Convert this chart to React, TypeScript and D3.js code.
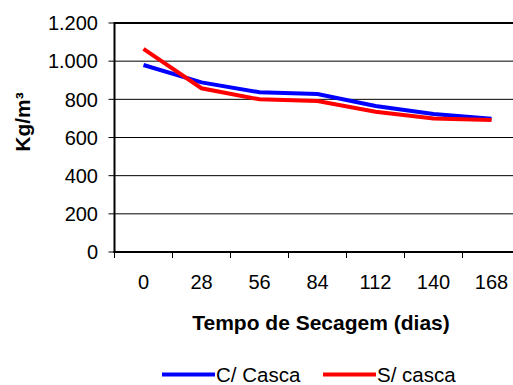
import React from "react";
import * as d3 from "d3";

const categories = ["0", "28", "56", "84", "112", "140", "168"];
const cCasca = [980, 889, 837, 828, 765, 723, 698];
const sCasca = [1064, 858, 800, 791, 735, 700, 692];
const yTicks = [0, 200, 400, 600, 800, 1000, 1200];
const yTickLabels = ["0", "200", "400", "600", "800", "1.000", "1.200"];
const seriesNames = ["C/ Casca", "S/ casca"];
const seriesColors = ["#0000ff", "#ff0000"];

const W = 513;
const H = 385;
const left = 114.5;
const right = 520.5;
const top = 23;
const bottom = 252;
const FONT = "'Liberation Sans', Arial, sans-serif";

export default function App() {
  const x = d3.scaleBand<string>().domain(categories).range([left, right]).padding(0);
  const y = d3.scaleLinear().domain([0, 1200]).range([bottom, top]);
  const line = d3
    .line<number>()
    .x((_, i) => (x(categories[i]) as number) + x.bandwidth() / 2)
    .y((d) => y(d));
  const series = [cCasca, sCasca];

  return (
    <svg
      width={W}
      height={H}
      style={{ position: "absolute", left: 0, top: 0, background: "#fff" }}
    >
      {yTicks.map((t) => (
        <line key={"g" + t} x1={left} x2={W} y1={y(t)} y2={y(t)} stroke="#000" strokeWidth={1} />
      ))}
      <line x1={left} x2={W} y1={top} y2={top} stroke="#000" strokeWidth={2} />
      {yTicks.map((t, i) => (
        <g key={"yt" + t}>
          <line x1={left - 6} x2={left} y1={y(t)} y2={y(t)} stroke="#000" strokeWidth={1} />
          <text
            x={98}
            y={y(t)}
            dy="0.36em"
            textAnchor="end"
            fontFamily={FONT}
            fontSize={20}
          >
            {yTickLabels[i]}
          </text>
        </g>
      ))}
      {categories.map((c) => (
        <line
          key={"xt" + c}
          x1={x(c) as number}
          x2={x(c) as number}
          y1={bottom}
          y2={bottom + 6}
          stroke="#000"
          strokeWidth={1}
        />
      ))}
      <line x1={right} x2={right} y1={bottom} y2={bottom + 6} stroke="#000" />
      {categories.map((c) => (
        <text
          key={"xl" + c}
          x={(x(c) as number) + x.bandwidth() / 2}
          y={289}
          textAnchor="middle"
          fontFamily={FONT}
          fontSize={20}
        >
          {c}
        </text>
      ))}
      <line x1={left} x2={left} y1={top - 1} y2={bottom + 1} stroke="#000" strokeWidth={2} />
      <line x1={left - 1} x2={W} y1={bottom} y2={bottom} stroke="#000" strokeWidth={2} />
      {series.map((s, i) => (
        <path key={"s" + i} d={line(s) || ""} fill="none" stroke={seriesColors[i]} strokeWidth={4} />
      ))}
      <text
        x={321}
        y={330}
        textAnchor="middle"
        fontFamily={FONT}
        fontSize={21}
        fontWeight="bold"
      >
        Tempo de Secagem (dias)
      </text>
      <text
        transform={`translate(30,122) rotate(-90)`}
        textAnchor="middle"
        fontFamily={FONT}
        fontSize={21}
        fontWeight="bold"
      >
        Kg/m³
      </text>
      {seriesNames.map((n, i) => {
        const lx = i === 0 ? 162 : 323;
        return (
          <g key={"lg" + i}>
            <line x1={lx} x2={lx + 53} y1={374.5} y2={374.5} stroke={seriesColors[i]} strokeWidth={4} />
            <text x={lx + 54} y={382} fontFamily={FONT} fontSize={20.5}>
              {n}
            </text>
          </g>
        );
      })}
    </svg>
  );
}
